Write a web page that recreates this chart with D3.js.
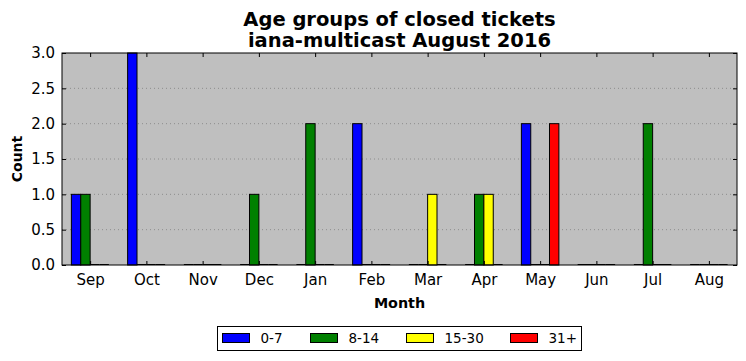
<!DOCTYPE html>
<html><head><meta charset="utf-8">
<script src="https://cdn.jsdelivr.net/npm/d3@7/dist/d3.min.js"></script>
<style>body{margin:0;background:#fff}svg{display:block}text{font-family:"DejaVu Sans",sans-serif}</style>
</head><body>
<script>
const months = ["Sep","Oct","Nov","Dec","Jan","Feb","Mar","Apr","May","Jun","Jul","Aug"];
const seriesNames = ["0-7","8-14","15-30","31+"];
const seriesColors = ["#0000ff","#008000","#ffff00","#ff0000"];
const s0_7   = [1,3,0,0,0,2,0,0,2,0,0,0];
const s8_14  = [1,0,0,1,2,0,0,1,0,0,2,0];
const s15_30 = [0,0,0,0,0,0,1,1,0,0,0,0];
const s31    = [0,0,0,0,0,0,0,0,2,0,0,0];
const yTicks = [0,0.5,1,1.5,2,2.5,3];
const series = [s0_7, s8_14, s15_30, s31];

const W=746,H=361, L=62,R=737,T=53,B=265;
const bw = 1/6;
const svg = d3.select("body").append("svg").attr("width",W).attr("height",H);
const x = d3.scaleLinear().domain([-bw, 12-bw]).range([L,R]);
const y = d3.scaleLinear().domain([0,3]).range([B,T]);

svg.append("rect").attr("x",L).attr("y",T).attr("width",R-L).attr("height",B-T).attr("fill","#bfbfbf");

// grid
svg.append("g").selectAll("line").data(yTicks.slice(1,-1)).join("line")
  .attr("x1",L).attr("x2",R).attr("y1",d=>y(d)).attr("y2",d=>y(d))
  .attr("stroke","#808080").attr("stroke-width",0.8).attr("stroke-dasharray","1,3");

// bars
series.forEach((vals,k)=>{
  const g = svg.append("g");
  vals.forEach((v,i)=>{
    const x0 = x(i + k*bw), x1 = x(i + (k+1)*bw);
    if (v>0) {
      g.append("rect").attr("x",x0).attr("y",y(v)).attr("width",x1-x0).attr("height",y(0)-y(v))
        .attr("fill",seriesColors[k]).attr("stroke","#000").attr("stroke-width",1);
    } else {
      g.append("line").attr("x1",x0).attr("x2",x1).attr("y1",y(0)-0.5).attr("y2",y(0)-0.5)
        .attr("stroke","#000").attr("stroke-width",1);
    }
  });
});

// frame
svg.append("rect").attr("x",L).attr("y",T).attr("width",R-L).attr("height",B-T)
  .attr("fill","none").attr("stroke","#000").attr("stroke-width",1);

// axes
const tickPos = months.map((m,i)=>i+2*bw);
const xAxis = d3.axisBottom(x).tickValues(tickPos).tickFormat((d,i)=>months[i]).tickSizeInner(-4).tickSizeOuter(0).tickPadding(9.5);
const gx = svg.append("g").attr("transform",`translate(0,${B})`).call(xAxis);
const xTop = d3.axisTop(x).tickValues(tickPos).tickFormat("").tickSizeInner(-4).tickSizeOuter(0);
const gxt = svg.append("g").attr("transform",`translate(0,${T})`).call(xTop);
const yAxis = d3.axisLeft(y).tickValues(yTicks).tickFormat(d3.format(".1f")).tickSizeInner(-4).tickSizeOuter(0).tickPadding(7);
const gy = svg.append("g").attr("transform",`translate(${L},0)`).call(yAxis);
const yRight = d3.axisRight(y).tickValues(yTicks).tickFormat("").tickSizeInner(-4).tickSizeOuter(0);
const gyr = svg.append("g").attr("transform",`translate(${R},0)`).call(yRight);
[gx,gxt,gy,gyr].forEach(g=>{g.select(".domain").remove(); g.selectAll("text").attr("font-size",15).attr("fill","#000").attr("font-family","DejaVu Sans");});
gx.selectAll("text").attr("dy","0.71em");

// titles
svg.append("text").attr("x",(L+R)/2).attr("y",26).attr("text-anchor","middle").attr("font-size",19.5).attr("font-weight","bold").text("Age groups of closed tickets");
svg.append("text").attr("x",(L+R)/2).attr("y",47).attr("text-anchor","middle").attr("font-size",19.5).attr("font-weight","bold").text("iana-multicast August 2016");
svg.append("text").attr("x",(L+R)/2).attr("y",308).attr("text-anchor","middle").attr("font-size",14.3).attr("font-weight","bold").text("Month");
svg.append("text").attr("transform",`translate(22,${(T+B)/2}) rotate(-90)`).attr("text-anchor","middle").attr("font-size",14).attr("font-weight","bold").text("Count");

// legend
const lg = svg.append("g");
lg.append("rect").attr("x",217.5).attr("y",326.5).attr("width",364).attr("height",24).attr("fill","#fff").attr("stroke","#000").attr("stroke-width",1);
const lx = [222,310,406,510];
seriesNames.forEach((n,k)=>{
  lg.append("rect").attr("x",lx[k]+0.5).attr("y",333.5).attr("width",27).attr("height",9).attr("fill",seriesColors[k]).attr("stroke","#000").attr("stroke-width",1);
  lg.append("text").attr("x",lx[k]+38.5).attr("y",343).attr("font-size",13.5).text(n);
});
</script>
</body></html>
